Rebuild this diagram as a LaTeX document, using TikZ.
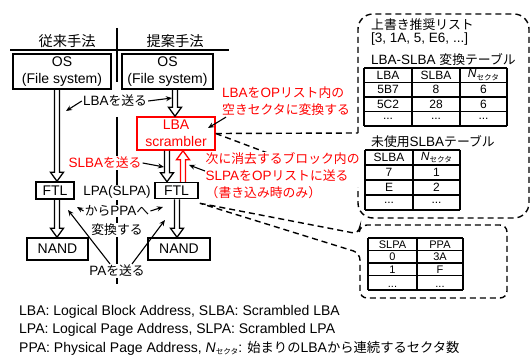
\documentclass[tikz,border=0pt]{standalone}
\usepackage{fontspec}
\setmainfont{Liberation Sans}
\newfontfamily\jp[Scale=0.95]{Noto Sans CJK JP}
\newcommand{\J}[1]{{\jp #1}}
\newcommand{\ns}{\textit{N}\raisebox{-2.5pt}{\fontsize{8}{8}\jp セクタ}}
\newcommand{\dd}{...}
\usetikzlibrary{arrows.meta,calc}
\definecolor{myred}{RGB}{255,0,0}
\newcommand{\harrowdraw}[3]{\draw[harr,#1] let \p1=(#2), \p2=(#3), \n1={sign(\y2-\y1)*9} in ({\x1-2.5pt},\y1) -- ({\x1-2.5pt},{\y2-\n1*1pt}) -- ({\x1-6.5pt},{\y2-\n1*1pt}) -- (\x1,\y2) -- ({\x1+6.5pt},{\y2-\n1*1pt}) -- ({\x1+2.5pt},{\y2-\n1*1pt}) -- ({\x1+2.5pt},\y1);}
\begin{document}
\begin{tikzpicture}[x=1pt,y=-1pt,
  box/.style={draw,line width=1.5pt,inner sep=0pt,font=\fontsize{14}{17}\selectfont,align=center},
  lbl/.style={font=\fontsize{13.5}{17}\selectfont,inner sep=1pt},
  redlbl/.style={lbl,text=myred,align=left},
  arr/.style={-{Stealth[length=6pt,width=5pt]},line width=1.1pt},
  harr/.style={line width=1.3pt,line join=miter},
  dsh/.style={dash pattern=on 6pt off 4pt,line width=1.4pt},
  cell/.style={font=\fontsize{12}{13}\selectfont,inner sep=0pt},
  scell/.style={font=\fontsize{11}{11}\selectfont,inner sep=0pt},
  tline/.style={line width=1.3pt}]
\useasboundingbox (0,0) rectangle (532,358);

% headers and dividers
\node[font=\fontsize{15}{17}\selectfont,inner sep=0pt] (h1) at (67,41) {\J{従来手法}};
\node[font=\fontsize{15}{17}\selectfont,inner sep=0pt] (h2) at (175,41) {\J{提案手法}};
\draw[line width=1.5pt] (10,50) -- (229,50);
\draw[line width=1.2pt] (117,28) -- (117,82) (117,117) -- (117,284);

% boxes
\node[box,minimum width=98pt,minimum height=35pt] (os1) at (62,71.5) {OS\\(File system)};
\node[box,minimum width=38pt,minimum height=17pt] (ftl1) at (55,190.5) {FTL};
\node[box,minimum width=61pt,minimum height=22pt] (nand1) at (57.5,249) {NAND};
\node[box,minimum width=91pt,minimum height=35pt] (os2) at (167.5,71.5) {OS\\(File system)};
\node[box,draw=myred,text=myred,minimum width=78pt,minimum height=33pt] (scr) at (176,133.5) {LBA\\scrambler};
\node[box,minimum width=43pt,minimum height=16pt] (ftl2) at (176.5,190.5) {FTL};
\node[box,minimum width=62pt,minimum height=22pt] (nand2) at (179,249) {NAND};

% hollow arrows
\harrowdraw{}{$(os1.south)+(-5,0)$}{ftl1.north}
\harrowdraw{}{$(ftl1.south)+(2,0)$}{nand1.north}
\harrowdraw{}{$(os2.south)+(7.5,0)$}{scr.north}
\harrowdraw{}{$(scr.south)+(-9,0)$}{ftl2.north}
\harrowdraw{draw=myred}{$(ftl2.north)+(6.5,0)$}{scr.south}
\harrowdraw{}{$(ftl2.south)+(0.5,0)$}{nand2.north}

% callouts (tails under the red label)
\coordinate (ftlt) at ($(ftl2.south east)+(1,4)$);
\draw[dsh] (scr.east) -- (358,133);
\draw[dsh] (scr.east) -- (358,187);
\draw[dsh,rounded corners=7pt] (ftlt) -- (359,234) -- (360,225) -- (507,225) -- (507,298) -- (360,298) -- (360,253) -- (ftlt);

% labels
\node[lbl,fill=white] (l1) at (115,101) {LBA\J{を送る}};
\coordinate (l1a) at (66,111);
\coordinate (l1b) at (172,98);
\draw[arr] (l1.west) -- (l1a);
\draw[arr] (l1.east) -- (l1b);

\node[redlbl,anchor=west] (r1) at (221,101.5) {LBA\J{を}OP\J{リスト内の}\\\J{空きセクタに変換する}};
\coordinate (r1t) at (208,128);
\draw[arr] ($(r1.south west)+(5,0)$) -- (r1t);

\node[lbl,text=myred,fill=white] (r2) at (105,163) {SLBA\J{を送る}};
\coordinate (r2t) at (164,167);
\draw[arr] (r2.east) -- (r2t);

\node[redlbl,anchor=west,fill=white,inner sep=0.5pt] (r3) at (205,176) {\J{次に消去するブロック内の}\\SLPA\J{を}OP\J{リストに送る}\\\J{（書き込み時のみ）}};
\coordinate (r3t) at (189,165);
\draw[arr] ($(r3.west)+(0,-5)$) -- (r3t);

\node[lbl,fill=white] (m1) at (117,192.5) {LPA(SLPA)};
\node[lbl,fill=white] (m2) at (117,211) {\J{から}PPA\J{へ}};
\node[lbl,fill=white] (m3) at (117,230) {\J{変換する}};
\coordinate (m2l) at (77,207);
\coordinate (m2r) at (163,207);
\draw[arr] (m2.west) -- (m2l);
\draw[arr] (m2.east) -- (m2r);

\node[lbl,fill=white] (pa) at (117,271) {PA\J{を送る}};
\coordinate (pal) at (68,210);
\coordinate (par) at (165,220);
\draw[arr] ($(pa.north)+(-7,0)$) -- (pal);
\draw[arr] ($(pa.north)+(15,0)$) -- (par);

% upper callout outline
\draw[dsh,rounded corners=15pt] (358,133) -- (358,14) -- (529,14) -- (529,218) -- (358,218) -- (358,187);

% callout texts
\node[lbl,anchor=west] (c1) at (370,25) {\J{上書き推奨リスト}};
\node[lbl,anchor=west] (c2) at (370,39) {[3, 1A, 5, E6, ...]};
\node[lbl,anchor=west] (c3) at (370,60) {LBA-SLBA \J{変換テーブル}};
\node[lbl,anchor=west] (c4) at (370,142) {\J{未使用}SLBA\J{テーブル}};

% table 1
\foreach \y in {68,82.5,97,111.5,126} \draw[tline] (364,\y) -- (507,\y);
\foreach \x in {364,412,460,507} \draw[tline] (\x,68) -- (\x,126);
\foreach \a/\b/\c [count=\i] in {LBA/SLBA/\ns, 5B7/8/6, 5C2/28/6, \dd/\dd/\dd} {
  \node[cell] (ta\i) at (388,{68+14.5*(\i-0.5)}) {\a};
  \node[cell] (tb\i) at (436,{68+14.5*(\i-0.5)}) {\b};
  \node[cell] (tc\i) at (483.5,{68+14.5*(\i-0.5)}) {\c};
}
% table 2
\foreach \y in {150,165,180,195,210} \draw[tline] (365,\y) -- (460,\y);
\foreach \x in {365,413,460} \draw[tline] (\x,150) -- (\x,210);
\foreach \a/\b [count=\i] in {SLBA/\ns, 7/1, E/2, \dd/\dd} {
  \node[cell] (ua\i) at (389,{150+15*(\i-0.5)}) {\a};
  \node[cell] (ub\i) at (436.5,{150+15*(\i-0.5)}) {\b};
}
% table 3
\foreach \y in {238,250.5,263,275.5,290} \draw[tline] (368,\y) -- (463,\y);
\foreach \x in {368,417,463} \draw[tline] (\x,238) -- (\x,290);
\foreach \a/\b [count=\i] in {SLPA/PPA, 0/3A, 1/F} {
  \node[scell] (va\i) at (392.5,{238+12.5*(\i-0.5)}) {\a};
  \node[scell] (vb\i) at (440,{238+12.5*(\i-0.5)}) {\b};
}
\node[scell,anchor=base] (va4) at (392.5,287) {\dd};
\node[scell,anchor=base] (vb4) at (440,287) {\dd};

% footer
\node[anchor=west,inner sep=0pt,font=\fontsize{14}{17}\selectfont] (f1) at (19,312) {LBA: Logical Block Address, SLBA: Scrambled LBA};
\node[anchor=west,inner sep=0pt,font=\fontsize{14}{17}\selectfont] (f2) at (19,330) {LPA: Logical Page Address, SLPA: Scrambled LPA};
\node[anchor=west,inner sep=0pt,font=\fontsize{14}{17}\selectfont] (f3) at (19,348) {PPA: Physical Page Address, \ns: \J{始まりの}LBA\J{から連続するセクタ数}};
\end{tikzpicture}
\end{document}
